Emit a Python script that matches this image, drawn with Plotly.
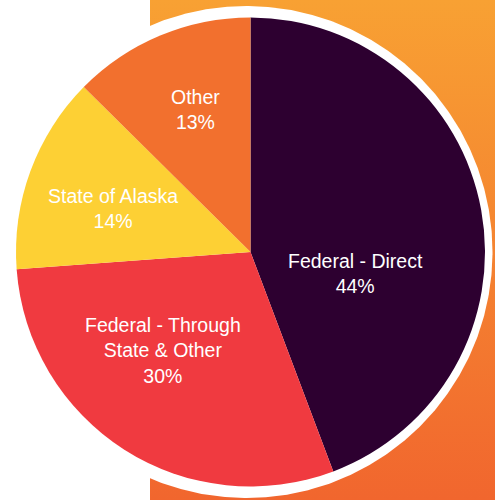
import plotly.graph_objects as go
import numpy as np

# ---- data ----
labels = ["Federal - Direct", "Federal - Through<br>State & Other", "State of Alaska", "Other"]
values = [44.3, 29.6, 13.6, 12.6]
colors = ["#2D0030", "#F03A40", "#FDD034", "#F2702E"]

# ---- layout constants (pixels, y measured upward) ----
W, H = 495, 500
cx, cy, R = 250.5, 248, 234.5          # pie
rcx, rcy, rR = 246.5, 248, 246         # white ring behind pie
label_pos = [(355, 226.5), (163, 149.5), (113, 291.5), (195, 391)]

fig = go.Figure()

# orange gradient background panel
fig.add_trace(go.Scatter(
    x=[150, W, W, 150, 150], y=[0, 0, H, H, 0],
    mode="lines", line=dict(width=0), fill="toself",
    fillgradient=dict(type="vertical", colorscale=[[0, "#F1662E"], [1, "#F8A133"]]),
    hoverinfo="skip", showlegend=False))

# white ring behind the pie
t = np.linspace(0, 2 * np.pi, 721)
fig.add_trace(go.Scatter(
    x=rcx + rR * np.cos(t), y=rcy + rR * np.sin(t),
    mode="lines", line=dict(width=0, color="white"), fill="toself", fillcolor="white",
    hoverinfo="skip", showlegend=False))

fig.add_trace(go.Pie(
    labels=labels, values=values,
    marker=dict(colors=colors, line=dict(width=0)),
    sort=False, direction="clockwise", rotation=0,
    textinfo="none",
    domain=dict(x=[(cx - R) / W, (cx + R) / W], y=[(cy - R) / H, (cy + R) / H]),
    showlegend=False, hoverinfo="label+percent"))

total = sum(values)
for lab, v, (lx, ly) in zip(labels, values, label_pos):
    fig.add_annotation(
        x=lx, y=ly, xref="x", yref="y",
        text=f"{lab}<br>{round(v / total * 100)}%",
        showarrow=False, xanchor="center", yanchor="middle", align="center",
        font=dict(family="Liberation Sans, Arial", size=19.5, color="white"))

fig.update_layout(
    width=W, height=H, margin=dict(l=0, r=0, t=0, b=0),
    paper_bgcolor="white", plot_bgcolor="rgba(0,0,0,0)",
    xaxis=dict(range=[0, W], visible=False, fixedrange=True),
    yaxis=dict(range=[0, H], visible=False, fixedrange=True),
)

fig.write_html("out.html")
